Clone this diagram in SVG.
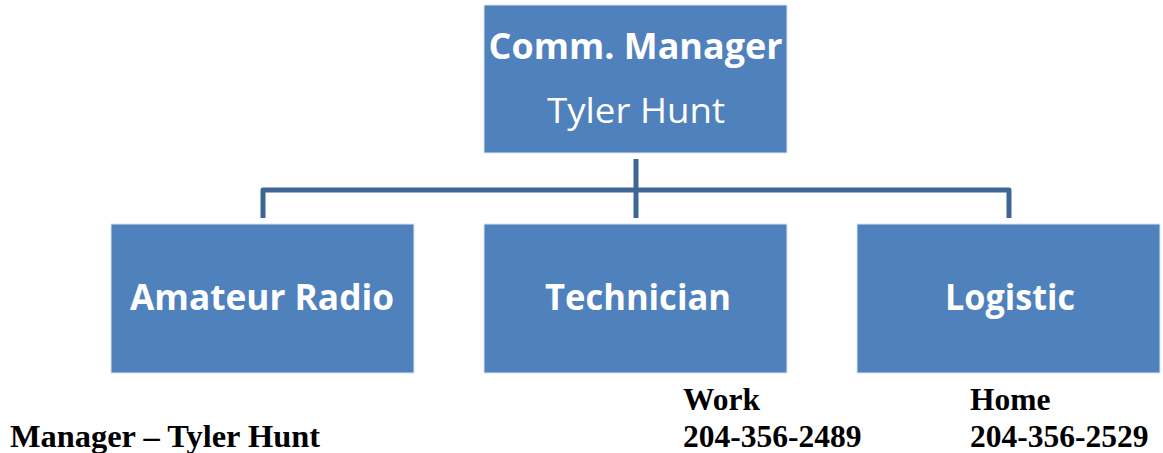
<svg xmlns="http://www.w3.org/2000/svg" width="1163" height="453" viewBox="0 0 1163 453">
  <style>
    .box { fill: #4F81BD; stroke: #DCE6F2; stroke-width: 1; }
    .title { font-family: "Open Sans", "Noto Sans", sans-serif; font-weight: bold; font-size: 35px; fill: #FFFFFF; text-anchor: middle; }
    .sub { font-family: "Open Sans", "Noto Sans", sans-serif; font-size: 35px; fill: #FFFFFF; text-anchor: middle; }
    .conn { fill: none; stroke: #3E6695; stroke-width: 5; stroke-linejoin: round; }
    .note { font-family: "Liberation Serif", "Times New Roman", serif; font-weight: bold; font-size: 31.5px; fill: #000000; }
  </style>

  <!-- connectors -->
  <g id="connectors">
    <path class="conn" d="M636 159 V218"/>
    <path class="conn" d="M263 218 V190 H1009 V218"/>
  </g>

  <g id="node-manager">
    <rect class="box" x="484" y="5" width="303" height="148"/>
    <text class="title" x="635.5" y="59" textLength="294" lengthAdjust="spacingAndGlyphs">Comm. Manager</text>
    <text class="sub" x="636" y="123" textLength="178" lengthAdjust="spacingAndGlyphs">Tyler Hunt</text>
  </g>

  <g id="node-amateur">
    <rect class="box" x="111" y="224" width="303" height="149"/>
    <text class="title" x="262" y="310" textLength="264" lengthAdjust="spacingAndGlyphs">Amateur Radio</text>
  </g>

  <g id="node-technician">
    <rect class="box" x="484" y="224" width="303" height="149"/>
    <text class="title" x="638" y="310" textLength="186" lengthAdjust="spacingAndGlyphs">Technician</text>
  </g>

  <g id="node-logistic">
    <rect class="box" x="857" y="224" width="303" height="149"/>
    <text class="title" x="1010" y="310" textLength="130" lengthAdjust="spacingAndGlyphs">Logistic</text>
  </g>

  <!-- contact details -->
  <g id="contacts">
    <text class="note" x="10" y="447" textLength="310" lengthAdjust="spacingAndGlyphs">Manager – Tyler Hunt</text>
    <text class="note" x="683" y="410">Work</text>
    <text class="note" x="683" y="447">204-356-2489</text>
    <text class="note" x="970" y="410">Home</text>
    <text class="note" x="970" y="447">204-356-2529</text>
  </g>
</svg>
